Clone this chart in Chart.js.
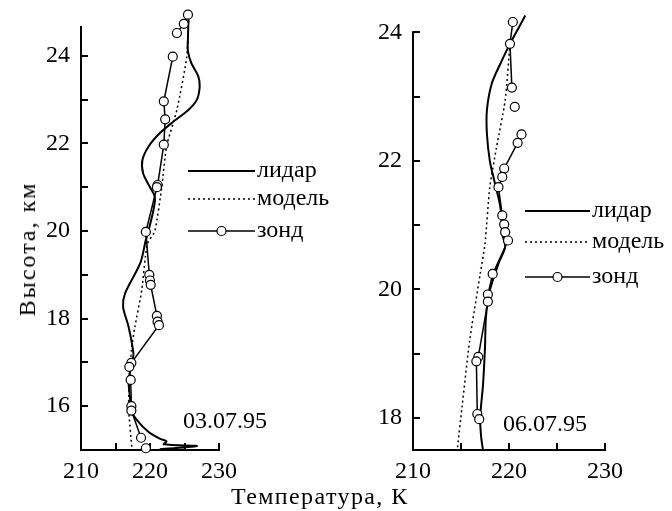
<!DOCTYPE html>
<html>
<head>
<meta charset="utf-8">
<script src="https://cdn.jsdelivr.net/npm/chart.js@4.4.0/dist/chart.umd.min.js"></script>
<style>
    body { margin: 0; background: #fff; width: 672px; height: 511px; position: relative; overflow: hidden; font-family: "Liberation Serif", serif; color: #000; }
    canvas { position: absolute; top: 0; }
    #leftChart { left: 0; }
    #rightChart { left: 345px; }
    .axis-title { position: absolute; font-size: 24px; line-height: 24px; white-space: nowrap; }
    #xTitle { left: 231px; top: 484px; letter-spacing: 1.4px; }
    #yTitle { left: 27px; top: 249px; letter-spacing: 2px; transform: translate(-50%, -50%) rotate(-90deg); }
</style>
</head>
<body>
<canvas id="leftChart" width="345" height="511"></canvas>
<canvas id="rightChart" width="327" height="511"></canvas>
<div class="axis-title" id="xTitle">Температура, К</div>
<div class="axis-title" id="yTitle">Высота, км</div>

<script>
// Profiles: height (km) and temperature (K), read top to bottom

// 03.07.95
const lidarHeights1 = [24.9, 24.4, 24.1, 23.83, 23.53, 23.3, 23.0, 22.77, 22.5, 22.23, 21.93, 21.62, 21.32, 21.0, 20.78, 20.48, 20.02, 19.8, 19.27, 18.58, 18.27, 17.81, 17.2, 17.0, 16.6, 16.2, 15.9, 15.68, 15.41, 15.26, 15.2, 15.13, 15.09, 15.02];
const lidarTemps1 = [225.6, 225.5, 225.5, 226.0, 227.0, 227.2, 226.8, 225.6, 223.4, 221.4, 219.8, 218.9, 219.0, 220.0, 220.7, 220.5, 219.8, 219.4, 218.6, 216.4, 216.1, 216.9, 217.6, 217.4, 216.9, 217.1, 217.3, 218.1, 219.8, 221.4, 222.4, 222.0, 226.8, 221.4];

const modelHeights1 = [24.9, 23.95, 22.77, 21.93, 21.0, 20.0, 19.7, 18.65, 17.8, 17.28, 16.0, 15.0];
const modelTemps1 = [225.6, 225.3, 223.9, 222.4, 221.7, 220.7, 219.6, 218.8, 217.8, 217.3, 216.9, 217.4];

const sondeHeights1 = [24.94, 24.73, 24.52, 23.98, 22.96, 22.55, 21.97, 21.05, 21.0, 19.98, 19.0, 18.87, 18.77, 18.06, 17.93, 17.85, 16.99, 16.9, 16.6, 16.0, 15.9, 15.28, 15.04];
const sondeTemps1 = [225.5, 224.9, 223.9, 223.3, 222.0, 222.2, 222.0, 221.1, 221.0, 219.4, 219.9, 220.0, 220.1, 221.0, 221.1, 221.3, 217.3, 217.0, 217.2, 217.3, 217.3, 218.7, 219.4];
const sondeBreaks1 = [2, 21];

// 06.07.95
const lidarHeights2 = [24.26, 23.82, 23.51, 23.2, 22.79, 22.42, 22.0, 21.67, 21.28, 20.86, 20.66, 20.4, 19.98, 19.57, 19.1, 18.53, 18.0, 17.7, 17.49];
const lidarTemps2 = [221.7, 220.1, 219.1, 218.2, 217.7, 217.7, 218.0, 218.5, 219.1, 219.3, 219.6, 218.9, 218.0, 217.6, 217.5, 217.3, 217.0, 217.1, 217.3];

const modelHeights2 = [23.82, 22.94, 22.21, 21.59, 20.71, 20.24, 19.2, 18.16, 17.49];
const modelTemps2 = [220.1, 219.6, 218.7, 218.0, 217.5, 217.0, 215.9, 215.1, 214.6];

const sondeHeights2 = [24.16, 23.82, 23.14, 22.84, 22.41, 22.28, 21.88, 21.75, 21.59, 21.15, 21.01, 20.89, 20.76, 20.24, 19.92, 19.81, 18.95, 18.88, 18.06, 17.98];
const sondeTemps2 = [220.4, 220.1, 220.3, 220.6, 221.3, 220.9, 219.5, 219.3, 218.9, 219.3, 219.5, 219.6, 219.9, 218.3, 217.8, 217.8, 216.8, 216.6, 216.7, 216.9];
const sondeBreaks2 = [2, 3];

const xTicksLabelled = [210, 220, 230];
const yTicksLabelled = [16, 18, 20, 22, 24];
const seriesNames = ['лидар', 'модель', 'зонд'];

const FONT = { family: '"Liberation Serif", serif', size: 24 };

function toPoints(heights, temps) {
    return heights.map((h, i) => ({ x: temps[i], y: h }));
}

function makeDatasets(lh, lt, mh, mt, sh, st, breaks) {
    return [
        {
            label: seriesNames[0],
            data: toPoints(lh, lt),
            showLine: true,
            borderColor: '#000',
            borderWidth: 2,
            pointRadius: 0,
            tension: 0.3,
            clip: false,
            order: 1
        },
        {
            label: seriesNames[1],
            data: toPoints(mh, mt),
            showLine: true,
            borderColor: '#000',
            borderWidth: 1.5,
            borderDash: [2, 3],
            pointRadius: 0,
            tension: 0.2,
            clip: false,
            order: 2
        },
        {
            label: seriesNames[2],
            data: toPoints(sh, st),
            showLine: true,
            borderColor: '#000',
            borderWidth: 1.5,
            pointRadius: 4.5,
            pointBackgroundColor: '#fff',
            pointBorderColor: '#000',
            pointBorderWidth: 1.2,
            clip: false,
            order: 0,
            segment: {
                borderColor: c => breaks.includes(c.p0DataIndex) ? 'rgba(0,0,0,0)' : '#000'
            }
        }
    ];
}

// scales decide their own edge padding from label sizes; drop it so layout.padding rules
function noEdgePadding(s) {
    s.paddingTop = 0;
    s.paddingBottom = 0;
    s.paddingLeft = 0;
    s.paddingRight = 0;
}

function makeScales(yMin, yMax, yWidth) {
    return {
        x: {
            type: 'linear',
            min: 210,
            max: 230,
            ticks: {
                stepSize: 5,
                padding: 14,
                color: '#000',
                font: FONT,
                maxRotation: 0,
                autoSkip: false,
                callback: v => xTicksLabelled.includes(v) ? v : ''
            },
            grid: { drawOnChartArea: false, tickLength: -7, color: '#000', lineWidth: 2 },
            border: { color: '#000', width: 2 },
            afterFit: s => { s.height = 61; noEdgePadding(s); }
        },
        y: {
            type: 'linear',
            min: yMin,
            max: yMax,
            afterBuildTicks: s => { s.ticks = s.ticks.filter(t => Number.isInteger(t.value) && t.value <= 24); },
            ticks: {
                stepSize: 1,
                includeBounds: false,
                padding: 18,
                color: '#000',
                font: FONT,
                autoSkip: false,
                callback: v => yTicksLabelled.includes(v) ? v : ''
            },
            grid: { drawOnChartArea: false, tickLength: -7, color: '#000', lineWidth: 2 },
            border: { display: false },
            afterFit: s => { s.width = yWidth; noEdgePadding(s); }
        }
    };
}

// Draws the vertical axis line (shorter than the plot), legend rows and the date label
const panelLegend = {
    id: 'panelLegend',
    beforeDatasetsDraw(chart, args, opts) {
        const ctx = chart.ctx;
        const y = chart.scales.y;
        const x0 = Math.round(chart.chartArea.left);
        ctx.save();
        ctx.strokeStyle = '#000';
        ctx.lineWidth = 2;
        ctx.beginPath();
        ctx.moveTo(x0, y.getPixelForValue(y.min) + 1);
        ctx.lineTo(x0, y.getPixelForValue(opts.axisTop) - 1);
        ctx.stroke();
        ctx.restore();
    },
    afterDatasetsDraw(chart, args, opts) {
        const ctx = chart.ctx;
        const sets = chart.data.datasets;
        ctx.save();
        ctx.font = FONT.size + 'px ' + FONT.family;
        ctx.fillStyle = '#000';
        ctx.strokeStyle = '#000';
        ctx.textBaseline = 'alphabetic';
        opts.rows.forEach((rowY, i) => {
            const ds = sets[i];
            ctx.beginPath();
            ctx.lineWidth = ds.borderWidth;
            ctx.setLineDash(ds.borderDash || []);
            ctx.moveTo(opts.x, rowY);
            ctx.lineTo(opts.x + opts.length, rowY);
            ctx.stroke();
            ctx.setLineDash([]);
            if (ds.pointRadius > 0) {
                ctx.beginPath();
                ctx.arc(opts.x + opts.length / 2, rowY, ds.pointRadius, 0, Math.PI * 2);
                ctx.fillStyle = '#fff';
                ctx.fill();
                ctx.lineWidth = ds.pointBorderWidth;
                ctx.stroke();
                ctx.fillStyle = '#000';
            }
            ctx.fillText(ds.label, opts.x + opts.length + 2, rowY + 6);
        });
        ctx.fillText(opts.date, opts.dateX, opts.dateY);
        ctx.restore();
    }
};

function makeChart(id, datasets, yMin, yMax, yWidth, padding, legendOpts) {
    return new Chart(document.getElementById(id), {
        type: 'scatter',
        data: { datasets: datasets },
        options: {
            responsive: false,
            animation: false,
            layout: { padding: padding },
            scales: makeScales(yMin, yMax, yWidth),
            plugins: {
                legend: { display: false },
                tooltip: { enabled: false },
                panelLegend: legendOpts
            }
        },
        plugins: [panelLegend]
    });
}

makeChart('leftChart',
    makeDatasets(lidarHeights1, lidarTemps1, modelHeights1, modelTemps1, sondeHeights1, sondeTemps1, sondeBreaks1),
    15, 25, 81,
    { left: 0, right: 126, top: 12, bottom: 0 },
    { axisTop: 24.66, x: 188, length: 67, rows: [171, 199, 231], date: '03.07.95', dateX: 183, dateY: 428 });

makeChart('rightChart',
    makeDatasets(lidarHeights2, lidarTemps2, modelHeights2, modelTemps2, sondeHeights2, sondeTemps2, sondeBreaks2),
    17.5, 24.3, 68,
    { left: 0, right: 67, top: 13, bottom: 0 },
    { axisTop: 24, x: 180, length: 65, rows: [211, 242, 277], date: '06.07.95', dateX: 158, dateY: 431 });
</script>
</body>
</html>
